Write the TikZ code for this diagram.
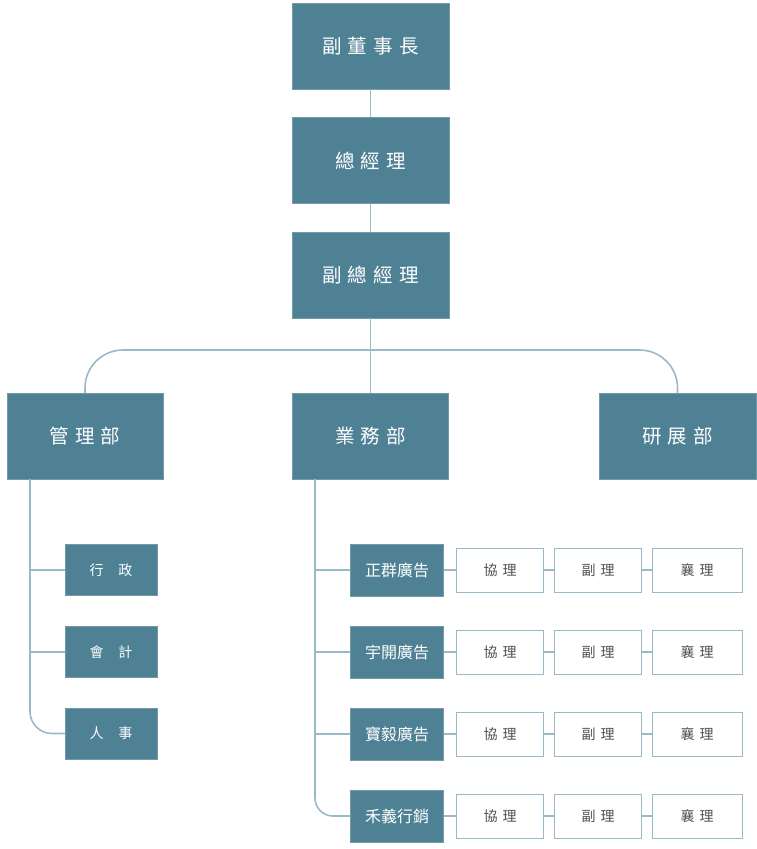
\documentclass[tikz,border=0pt]{standalone}
\usepackage{fontspec}
\setmainfont{Noto Sans CJK TC}
\definecolor{boxfill}{RGB}{79,129,149}
\definecolor{linecol}{RGB}{152,186,199}
\definecolor{txtgray}{RGB}{80,80,80}
\newcommand\kg[1]{\hspace{#1pt}}
\tikzset{
  bigbox/.style={rectangle, fill=boxfill, draw=boxfill!80!white, line width=0.5pt, minimum width=157pt, minimum height=86pt, inner sep=0pt, text=white, font=\fontsize{19.5}{22}\selectfont},
  subbox/.style={rectangle, fill=boxfill, draw=boxfill!80!white, line width=0.5pt, minimum width=92pt, minimum height=51pt, inner sep=0pt, text=white, font=\fontsize{14}{16}\selectfont},
  corpbox/.style={rectangle, fill=boxfill, draw=boxfill!80!white, line width=0.5pt, minimum width=93pt, minimum height=52pt, inner sep=0pt, text=white, font=\fontsize{16}{18}\selectfont},
  rolebox/.style={rectangle, fill=white, draw=linecol, line width=1pt, minimum width=87pt, minimum height=44pt, inner sep=0pt, text=txtgray, font=\fontsize{14}{16}\selectfont},
  conn/.style={draw=linecol, line width=1.6pt},
}
\begin{document}
\begin{tikzpicture}[x=1pt,y=-1pt]
\useasboundingbox (0,0) rectangle (757,849);
% top chain
\node[bigbox] (fdsz) at (370.5,46) {副\kg{6}董\kg{6}事\kg{6}長};
\node[bigbox] (zjl) at (370.5,160.5) {總\kg{6}經\kg{6}理};
\node[bigbox] (fzjl) at (370.5,275) {副\kg{6}總\kg{6}經\kg{6}理};
% departments
\node[bigbox, minimum width=156pt] (glb) at (85,436) {管\kg{6}理\kg{6}部};
\node[bigbox, minimum width=156pt] (ywb) at (370.5,436) {業\kg{6}務\kg{6}部};
\node[bigbox] (yzb) at (677.5,436) {研\kg{6}展\kg{6}部};
\coordinate (bar) at (370.5,350);
\draw[conn] (fdsz.south) -- (zjl.north);
\draw[conn] (zjl.south) -- (fzjl.north);
\draw[conn] (fzjl.south) -- (ywb.north);
\draw[conn, rounded corners=38pt] (glb.north) -- (glb.north |- bar) -- (yzb.north |- bar) -- (yzb.north);
% management sub units
\node[subbox] (xz) at (111,570) {行\kg{15}政};
\node[subbox] (kj) at (111,652) {會\kg{15}計};
\node[subbox] (rs) at (111,733.5) {人\kg{15}事};
\coordinate (mtrunk) at (30,479);
\draw[conn, rounded corners=22pt] (mtrunk) |- (rs.west);
\draw[conn] (mtrunk |- xz.west) -- (xz.west);
\draw[conn] (mtrunk |- kj.west) -- (kj.west);
% business sub units
\coordinate (btrunk) at (315,479);
\foreach \n/\t/\y in {a/正群廣告/570, b/宇開廣告/652, c/寶毅廣告/734, d/禾義行銷/816}{
  \node[corpbox] (c\n) at (397,\y) {\t};
  \node[rolebox] (x\n) at (500,\y) {協\kg{5}理};
  \node[rolebox] (f\n) at (598,\y) {副\kg{5}理};
  \node[rolebox, minimum width=90pt] (s\n) at (697,\y) {襄\kg{5}理};
  \draw[conn] (c\n.east) -- (x\n.west);
  \draw[conn] (x\n.east) -- (f\n.west);
  \draw[conn] (f\n.east) -- (s\n.west);
}
\draw[conn, rounded corners=18pt] (btrunk) |- (cd.west);
\draw[conn] (btrunk |- ca.west) -- (ca.west);
\draw[conn] (btrunk |- cb.west) -- (cb.west);
\draw[conn] (btrunk |- cc.west) -- (cc.west);
\end{tikzpicture}
\end{document}
